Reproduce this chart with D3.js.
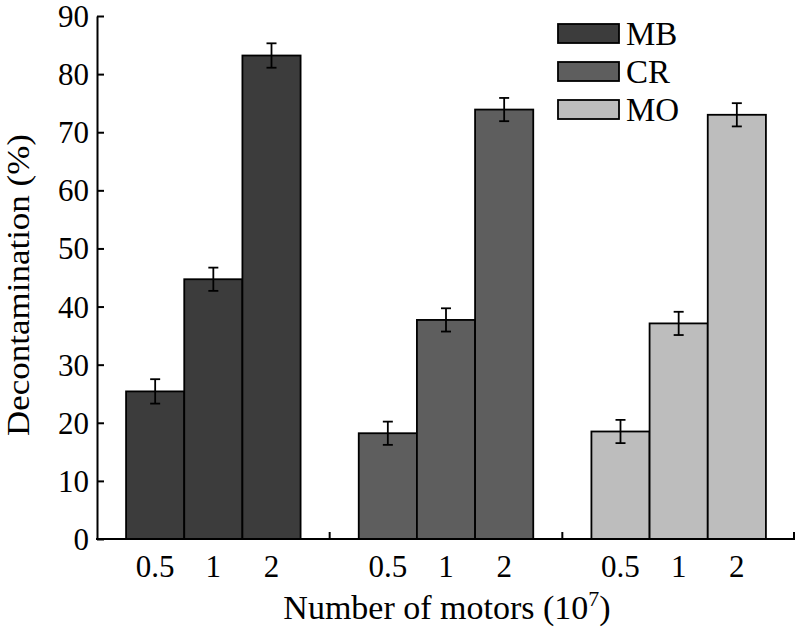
<!DOCTYPE html>
<html lang="en">
<head>
    <meta charset="utf-8" />
    <title>Decontamination vs number of motors</title>
    <script src="https://d3js.org/d3.v7.min.js"></script>
    <style>
        body { margin: 0; background: #fff; }
        text { font-family: "Liberation Serif", "Times New Roman", serif; fill: #000; }
    </style>
</head>
<body>
    <svg id="chart" width="796" height="632"></svg>
    <script>
        // Data
        const dyes = ["MB", "CR", "MO"];
        const motors = ["0.5", "1", "2"];
        const mbValues = [25.4, 44.7, 83.2];
        const crValues = [18.2, 37.7, 73.9];
        const moValues = [18.5, 37.1, 73.0];
        const mbErrors = [2.1, 2.0, 2.1];
        const crErrors = [2.0, 2.0, 2.0];
        const moErrors = [2.0, 2.0, 2.0];
        const yTicks = [0, 10, 20, 30, 40, 50, 60, 70, 80, 90];

        const colors = { MB: "#3c3c3c", CR: "#5e5e5e", MO: "#bdbdbd" };

        const valuesByDye = { MB: mbValues, CR: crValues, MO: moValues };
        const errorsByDye = { MB: mbErrors, CR: crErrors, MO: moErrors };
        const rows = [];
        dyes.forEach(dye => {
            motors.forEach((m, i) => {
                rows.push({ dye: dye, motor: m, value: valuesByDye[dye][i], err: errorsByDye[dye][i] });
            });
        });

        const margin = { left: 97, right: 1, top: 16, bottom: 93 };
        const width = 796, height = 632;
        const svg = d3.select("#chart");

        const x0 = d3.scaleBand()
            .domain(dyes)
            .range([margin.left, width - margin.right])
            .paddingInner(0)
            .paddingOuter(0);

        const x1 = d3.scaleBand()
            .domain(motors)
            .range([0, x0.bandwidth()])
            .paddingInner(0)
            .paddingOuter(0.5);

        const y = d3.scaleLinear()
            .domain([0, 90])
            .range([height - margin.bottom, margin.top]);

        // bars
        const groups = svg.append("g")
            .selectAll("g")
            .data(dyes)
            .enter()
            .append("g")
            .attr("transform", d => "translate(" + x0(d) + ",0)");

        groups.selectAll("rect")
            .data(d => rows.filter(r => r.dye === d))
            .enter()
            .append("rect")
            .attr("x", d => x1(d.motor))
            .attr("y", d => y(d.value))
            .attr("width", x1.bandwidth())
            .attr("height", d => y(0) - y(d.value))
            .attr("fill", d => colors[d.dye])
            .attr("stroke", "#000")
            .attr("stroke-width", 1.8);

        // error bars
        const capW = 5;
        const eb = groups.selectAll("g.err")
            .data(d => rows.filter(r => r.dye === d))
            .enter()
            .append("g")
            .attr("class", "err")
            .attr("stroke", "#000")
            .attr("stroke-width", 1.8);
        eb.append("line")
            .attr("x1", d => x1(d.motor) + x1.bandwidth() / 2)
            .attr("x2", d => x1(d.motor) + x1.bandwidth() / 2)
            .attr("y1", d => y(d.value - d.err))
            .attr("y2", d => y(d.value + d.err));
        eb.append("line")
            .attr("x1", d => x1(d.motor) + x1.bandwidth() / 2 - capW)
            .attr("x2", d => x1(d.motor) + x1.bandwidth() / 2 + capW)
            .attr("y1", d => y(d.value + d.err))
            .attr("y2", d => y(d.value + d.err));
        eb.append("line")
            .attr("x1", d => x1(d.motor) + x1.bandwidth() / 2 - capW)
            .attr("x2", d => x1(d.motor) + x1.bandwidth() / 2 + capW)
            .attr("y1", d => y(d.value - d.err))
            .attr("y2", d => y(d.value - d.err));

        // y axis
        const yAxis = svg.append("g")
            .attr("transform", "translate(" + margin.left + ",0)")
            .call(d3.axisLeft(y).tickValues(yTicks).tickSizeInner(-7).tickSizeOuter(0).tickPadding(8));
        yAxis.select(".domain").attr("stroke-width", 2);
        yAxis.selectAll(".tick line").attr("stroke-width", 2);
        yAxis.selectAll("text").attr("font-size", 31).attr("dy", "0.34em")
            .style("font-family", "Liberation Serif");

        // x axis
        const xAxis = svg.append("g");
        xAxis.append("line")
            .attr("x1", margin.left - 1)
            .attr("x2", width - margin.right)
            .attr("y1", y(0))
            .attr("y2", y(0))
            .attr("stroke", "#000")
            .attr("stroke-width", 2);
        xAxis.selectAll("line.sep")
            .data(dyes)
            .enter()
            .append("line")
            .attr("class", "sep")
            .attr("x1", d => x0(d) + x0.bandwidth() - (d === "MO" ? 1 : 0))
            .attr("x2", d => x0(d) + x0.bandwidth() - (d === "MO" ? 1 : 0))
            .attr("y1", y(0))
            .attr("y2", y(0) - 7)
            .attr("stroke", "#000")
            .attr("stroke-width", 2);

        groups.selectAll("text.xt")
            .data(motors)
            .enter()
            .append("text")
            .attr("class", "xt")
            .attr("x", d => x1(d) + x1.bandwidth() / 2)
            .attr("y", y(0) + 38)
            .attr("text-anchor", "middle")
            .attr("font-size", 31)
            .text(d => d);

        // axis titles
        const xTitle = svg.append("text")
            .attr("x", 447)
            .attr("y", 619)
            .attr("text-anchor", "middle")
            .attr("font-size", 34);
        xTitle.append("tspan").text("Number of motors (10");
        xTitle.append("tspan").attr("font-size", 22).attr("dy", -13).text("7");
        xTitle.append("tspan").attr("dy", 13).text(")");

        svg.append("text")
            .attr("transform", "translate(29,285) rotate(-90)")
            .attr("text-anchor", "middle")
            .attr("font-size", 32)
            .attr("textLength", 302)
            .attr("lengthAdjust", "spacingAndGlyphs")
            .text("Decontamination (%)");

        // legend
        const legend = svg.append("g")
            .selectAll("g")
            .data(dyes)
            .enter()
            .append("g")
            .attr("transform", (d, i) => "translate(558," + (24 + i * 38) + ")");
        legend.append("rect")
            .attr("width", 61)
            .attr("height", 19)
            .attr("fill", d => colors[d])
            .attr("stroke", "#000")
            .attr("stroke-width", 1.8);
        legend.append("text")
            .attr("x", 68)
            .attr("y", 21)
            .attr("font-size", 33)
            .text(d => d);
    </script>
</body>
</html>
